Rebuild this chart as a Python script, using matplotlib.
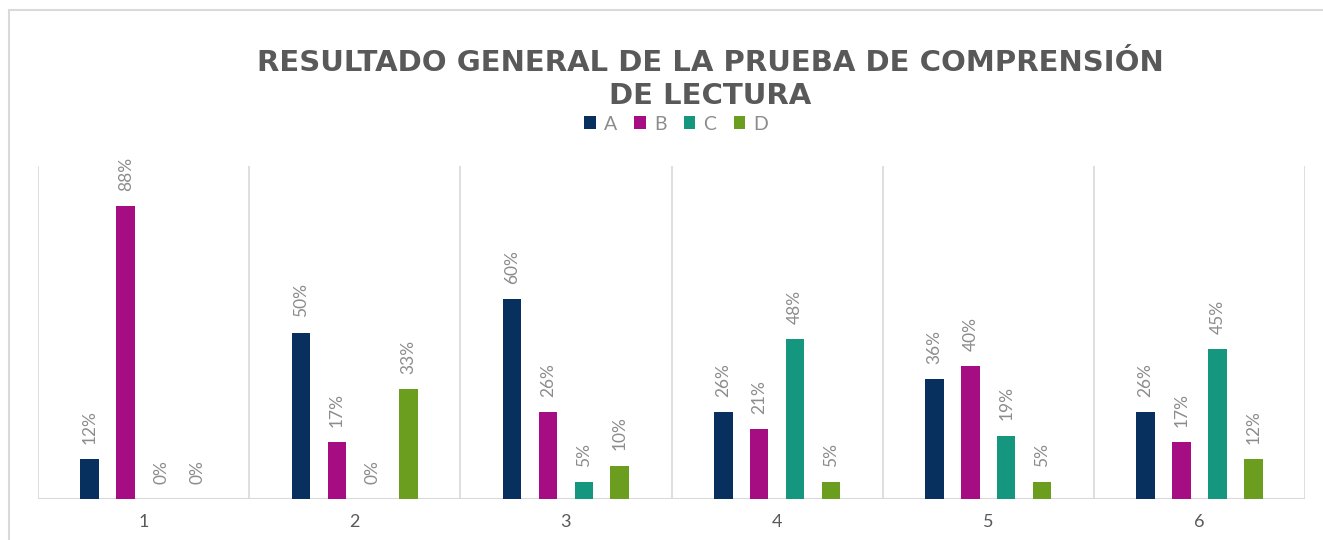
import numpy as np
import matplotlib
matplotlib.use("Agg")
import matplotlib.pyplot as plt
from matplotlib.patches import Rectangle

# datos (porcentajes)
categorias = ["1", "2", "3", "4", "5", "6"]
serie_a = [12, 50, 60, 26, 36, 26]
serie_b = [88, 17, 26, 21, 40, 17]
serie_c = [0, 0, 5, 48, 19, 45]
serie_d = [0, 33, 10, 5, 5, 12]
nombres = ["A", "B", "C", "D"]
colores = ["#07305E", "#A60D82", "#15967E", "#6B9E1F"]

W, H = 1323, 540
fig = plt.figure(figsize=(W / 100, H / 100), dpi=100)
ax = fig.add_axes([38 / W, 1 - 499 / H, (1305 - 38) / W, (499 - 166) / H])

x = np.arange(len(categorias))
ancho = 0.088
paso = 0.17
series = [serie_a, serie_b, serie_c, serie_d]

for i, (vals, nom, col) in enumerate(zip(series, nombres, colores)):
    pos = x + (i - 1.5) * paso
    ax.bar(pos, np.array(vals) / 100, width=ancho, color=col, label=nom, zorder=3)
    for px, v in zip(pos, vals):
        ax.annotate(f"{v}%", (px, v / 100), xytext=(0, 11), textcoords="offset points",
                    rotation=90, ha="center", va="bottom", color="#8C8C8C",
                    fontsize=12.5, fontfamily="Lato")

ax.set_xlim(-0.5, len(categorias) - 0.5)
ax.set_ylim(0, 1.0)
for b in np.arange(-0.5, len(categorias), 1):
    ax.axvline(b, color="#D9D9D9", lw=1.2, zorder=1)

for s in ax.spines.values():
    s.set_visible(False)
ax.axhline(0, color="#D9D9D9", lw=1.5, zorder=2)
ax.set_yticks([])
ax.set_xticks(x)
ax.set_xticklabels(categorias, color="#595959", fontsize=13, fontfamily="Lato")
ax.tick_params(axis="x", length=0, pad=11)

fig.text(710 / W, 1 - 63 / H, "RESULTADO GENERAL DE LA PRUEBA DE COMPRENSIÓN",
         ha="center", va="center", fontsize=21, fontweight="bold", color="#595959")
fig.text(710 / W, 1 - 96 / H, "DE LECTURA",
         ha="center", va="center", fontsize=21, fontweight="bold", color="#595959")

leg = fig.legend(loc="center", bbox_to_anchor=(676 / W, 1 - 124 / H), ncol=4,
                 frameon=False, handlelength=0.6, handleheight=0.6, handletextpad=0.4,
                 columnspacing=0.9, prop={"family": "Lato", "size": 14})
for t in leg.get_texts():
    t.set_color("#8C8C8C")

# borde del area del grafico
fig.add_artist(Rectangle((9 / W, -0.2), 1.2, 1.2 - 10 / H, transform=fig.transFigure,
                         fill=False, edgecolor="#D9D9D9", lw=1.5))

fig.savefig("out.png", dpi=100)
